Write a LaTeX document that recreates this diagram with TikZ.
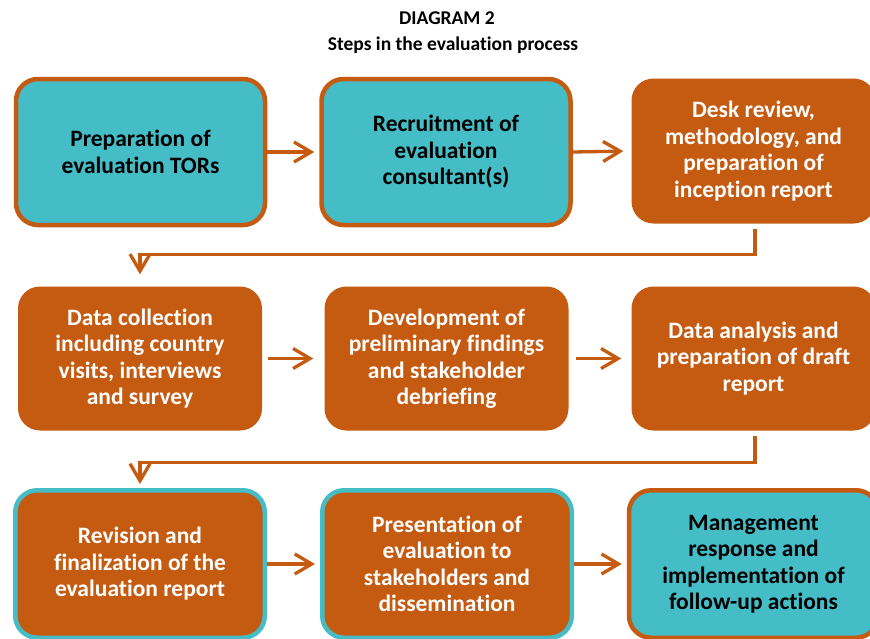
\documentclass[tikz,border=0pt]{standalone}
\usepackage{fontspec}
\setmainfont{Carlito}[RawFeature=-liga]
\usetikzlibrary{arrows.meta}
\definecolor{borange}{HTML}{C55A11}
\definecolor{bteal}{HTML}{45BDC6}
\tikzset{
  box/.style={rectangle, rounded corners=22pt, inner sep=0pt, align=center,
    font=\fontsize{23.5}{26.5}\selectfont\bfseries},
  tealbox/.style={box, fill=bteal, draw=borange, line width=4.5pt, text=black,
    minimum width=249pt, minimum height=146pt},
  orbox/.style={box, fill=borange, text=white, minimum width=244pt, minimum height=144pt},
  ortealbox/.style={box, fill=borange, draw=bteal, line width=4.5pt, text=white,
    minimum width=249.5pt, minimum height=147.5pt},
  conn/.style={draw=borange, line width=3.3pt, -{Straight Barb[length=17pt,width=20pt]}},
  title/.style={font=\fontsize{19.5}{22}\selectfont\bfseries, text=black}
}
\begin{document}
\begin{tikzpicture}[x=1pt,y=-1pt]
\useasboundingbox (0,0) rectangle (870,638);
\node[title] (t1) at (447,18) {DIAGRAM 2};
\node[title] (t2) at (453,45) {Steps in the evaluation process};

\node[tealbox] (b1) at (140.5,152) {Preparation of\\evaluation TORs};
\node[tealbox] (b2) at (446,152) {Recruitment of\\evaluation\\consultant(s)};
\node[orbox, minimum height=145pt] (b3) at (753.5,151) {Desk review,\\methodology, and\\preparation of\\inception report};

\node[orbox] (b4) at (140,358.5) {Data collection\\including country\\visits, interviews\\and survey};
\node[orbox] (b5) at (446.5,358.5) {Development of\\preliminary findings\\and stakeholder\\debriefing};
\node[orbox] (b6) at (753.5,358.5) {Data analysis and\\preparation of draft\\report};

\node[ortealbox] (b7) at (140,564) {Revision and\\finalization of the\\evaluation report};
\node[ortealbox] (b8) at (447,564) {Presentation of\\evaluation to\\stakeholders and\\dissemination};
\node[tealbox, minimum height=147.5pt] (b9) at (753.5,564) {Management\\response and\\implementation of\\follow-up actions};

\draw[conn, shorten >=5pt] (b1.east) -- (b2.west);
\draw[conn, shorten >=8pt] (b2.east) -- (b3.west);
\draw[conn, shorten <=6pt, shorten >=11pt] (b4.east) -- (b5.west);
\draw[conn, shorten <=7pt, shorten >=10pt] (b5.east) -- (b6.west);
\draw[conn, shorten >=5pt] (b7.east) -- (b8.west);
\draw[conn, shorten >=5pt] (b8.east) -- (b9.west);

\draw[conn, shorten <=5pt, shorten >=12pt] ([xshift=1.5pt]b3.south) -- ++(0,31) -| (b4.north);
\draw[conn, shorten <=5pt, shorten >=6pt] ([xshift=1.5pt]b6.south) -- ++(0,31.5) -| ([yshift=-2pt]b7.north);
\end{tikzpicture}
\end{document}
